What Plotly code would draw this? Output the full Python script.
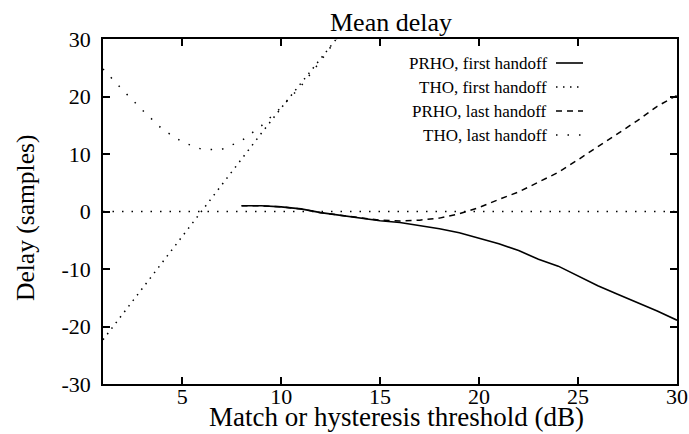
import plotly.graph_objects as go

# ---- data ----
x_prho = [8, 9, 10, 11, 12, 13, 14, 15, 16, 17, 18, 19, 20, 21, 22, 23, 24, 25, 26, 27, 28, 29, 30]
prho_first = [1.0, 1.0, 0.8, 0.45, -0.2, -0.7, -1.1, -1.6, -1.9, -2.4, -3.0, -3.7, -4.6, -5.6,
              -6.8, -8.3, -9.5, -11.2, -12.9, -14.4, -15.8, -17.3, -18.9]
prho_last = [1.0, 1.0, 0.8, 0.45, -0.2, -0.7, -1.1, -1.5, -1.65, -1.5, -1.15, -0.4, 0.7, 2.1,
             3.4, 5.1, 6.8, 9.0, 11.3, 13.5, 15.8, 18.3, 20.2]

x_tho = [1, 2, 3, 4, 5, 6, 7, 8, 9, 10, 11, 12, 13]
tho_first = [-22.3, -17.8, -13.3, -8.8, -4.2, 0.3, 4.7, 9.2, 13.6, 18.0, 22.3, 26.6, 30.9]
tho_last = [24.8, 21.1, 17.6, 14.3, 12.1, 10.8, 10.8, 12.3, 14.9, 18.1, 21.8, 26.2, 31.0]

x_zero = [1, 30]
zero_line = [0, 0]

series_names = ["PRHO, first handoff", "THO, first handoff", "PRHO, last handoff", "THO, last handoff"]
x_ticks = [5, 10, 15, 20, 25, 30]
y_ticks = [-30, -20, -10, 0, 10, 20, 30]
y_tick_text = ["-30", "-20", "-10", "0", "10", "20", "30"]

FONT = "Liberation Serif, Times New Roman, serif"
styles = [
    dict(color="black", width=1.6, dash="solid"),
    dict(color="black", width=1.5, dash="1.5px,5.5px"),
    dict(color="black", width=1.5, dash="6px,5px"),
    dict(color="black", width=1.5, dash="1.5px,10px"),
]

fig = go.Figure()
fig.add_trace(go.Scatter(x=x_zero, y=zero_line, mode="lines",
                         line=dict(color="black", width=1.5, dash="1.5px,8px"),
                         showlegend=False, hoverinfo="skip"))
fig.add_trace(go.Scatter(x=x_prho, y=prho_first, mode="lines", name=series_names[0], line=styles[0]))
fig.add_trace(go.Scatter(x=x_tho, y=tho_first, mode="lines", name=series_names[1], line=styles[1]))
fig.add_trace(go.Scatter(x=x_prho, y=prho_last, mode="lines", name=series_names[2], line=styles[2]))
fig.add_trace(go.Scatter(x=x_tho, y=tho_last, mode="lines", name=series_names[3], line=styles[3]))

W, H = 689, 434
L, R, T, B = 103, 12, 39, 50
pw, ph = W - L - R, H - T - B


def px_x(p):
    return (p - L) / pw


def px_y(p):
    return (H - B - p) / ph


# custom legend: right-aligned text with the line sample on its right
legend_rows = [63, 87, 111, 135]
for name, st, row in zip(series_names, styles, legend_rows):
    fig.add_annotation(x=px_x(549), y=px_y(row), xref="paper", yref="paper",
                       text=name, showarrow=False, xanchor="right", yanchor="middle",
                       font=dict(family=FONT, size=17, color="black"))
    fig.add_shape(type="line", xref="paper", yref="paper",
                  x0=px_x(556), x1=px_x(583), y0=px_y(row), y1=px_y(row),
                  line=dict(color="black", width=st["width"], dash=st["dash"]))

# axis titles placed as annotations
fig.add_annotation(x=px_x(396), y=px_y(417), xref="paper", yref="paper",
                   text="Match or hysteresis threshold (dB)", showarrow=False,
                   xanchor="center", yanchor="middle",
                   font=dict(family=FONT, size=27, color="black"))
fig.add_annotation(x=px_x(25), y=px_y(218), xref="paper", yref="paper",
                   text="Delay (samples)", showarrow=False, textangle=-90,
                   xanchor="center", yanchor="middle",
                   font=dict(family=FONT, size=25.5, color="black"))

axis_common = dict(showline=True, linecolor="black", linewidth=1.6, mirror="ticks",
                   ticks="inside", ticklen=7, tickwidth=1.5, tickcolor="black",
                   showgrid=False, zeroline=False, automargin=False,
                   tickfont=dict(family=FONT, size=22, color="black"))

fig.update_layout(
    width=W, height=H,
    margin=dict(l=L, r=R, t=T, b=B, autoexpand=False),
    paper_bgcolor="white", plot_bgcolor="white",
    showlegend=False,
    font=dict(family=FONT, color="black"),
    title=dict(text="Mean delay", x=px_x(391), xref="paper", xanchor="center",
               y=1 - 22 / H, yref="container", yanchor="middle",
               font=dict(family=FONT, size=26, color="black")),
    xaxis=dict(range=[1, 30], tickvals=x_ticks, ticklabelstandoff=-8, **axis_common),
    yaxis=dict(range=[-30, 30], tickvals=y_ticks, ticktext=y_tick_text, ticklabelstandoff=6,
               **axis_common),
)

fig.write_html("out.html")
